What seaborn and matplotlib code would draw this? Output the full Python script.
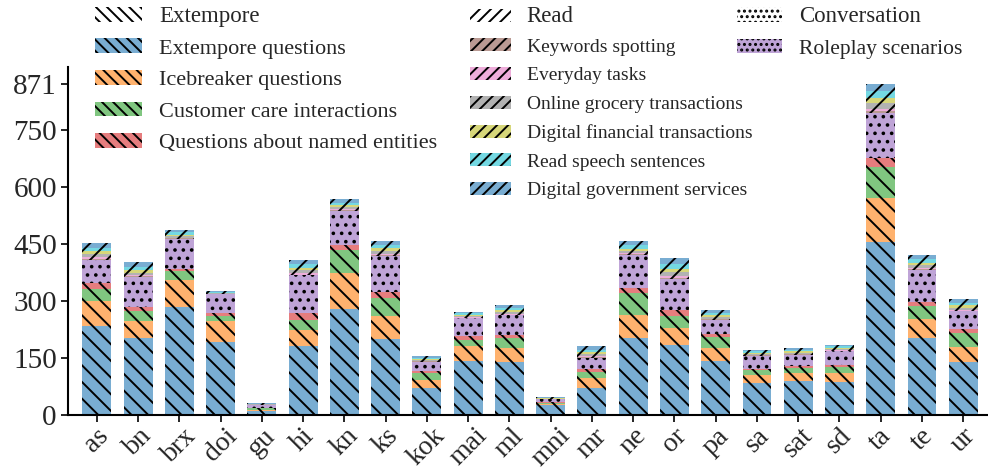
import matplotlib
matplotlib.use("Agg")
import numpy as np
import pandas as pd
import matplotlib.pyplot as plt
import matplotlib.colors as mcolors
from matplotlib.patches import Patch
import seaborn as sns

#%% data (hours per language)
langs = ["as", "bn", "brx", "doi", "gu", "hi", "kn", "ks", "kok", "mai", "ml",
         "mni", "mr", "ne", "or", "pa", "sa", "sat", "sd", "ta", "te", "ur"]

extempore_questions = [235, 203, 285, 192, 11, 182, 279, 199, 70, 143, 138,
                       25, 72, 201, 185, 142, 84, 89, 87, 455, 202, 140]
icebreaker_questions = [65, 45, 71, 55, 3, 42, 94, 61, 22, 39, 38,
                        4, 24, 63, 44, 35, 22, 20, 22, 116, 50, 38]
customer_care = [31, 25, 22, 14, 4, 26, 61, 48, 17, 16, 25,
                 3, 17, 56, 30, 29, 12, 15, 16, 80, 35, 37]
named_entities = [15, 10, 6, 6, 1, 18, 14, 15, 6, 9, 8,
                  1, 7, 15, 17, 8, 4, 5, 7, 24, 11, 10]
roleplay = [62, 79, 79, 51, 8, 99, 88, 95, 25, 47, 54,
            8, 31, 85, 82, 36, 34, 29, 35, 120, 84, 47]
keywords = [2, 2, 1, 0, 0, 2, 2, 2, 1, 1, 1,
            0, 1, 2, 3, 1, 1, 1, 1, 4, 2, 2]
everyday = [4, 3, 2, 1, 0, 4, 3, 4, 1, 2, 2,
            1, 3, 3, 5, 2, 1, 2, 2, 6, 3, 3]
grocery = [8, 6, 4, 1, 1, 7, 5, 7, 2, 3, 5,
           1, 5, 6, 9, 4, 3, 3, 3, 14, 6, 5]
financial = [8, 7, 4, 1, 1, 7, 5, 7, 3, 3, 5,
             1, 5, 6, 9, 5, 3, 3, 3, 14, 7, 6]
read_speech = [10, 9, 6, 2, 1, 10, 7, 9, 3, 4, 6,
               1, 7, 9, 13, 6, 4, 5, 4, 18, 9, 7]
government = [12, 12, 7, 2, 1, 11, 9, 11, 4, 4, 8,
              1, 9, 10, 16, 8, 4, 5, 5, 20, 11, 9]

yticks = [0, 150, 300, 450, 600, 750, 871]

# stacking order bottom -> top
series = [
    ("Extempore questions", extempore_questions, "extempore"),
    ("Icebreaker questions", icebreaker_questions, "extempore"),
    ("Customer care interactions", customer_care, "extempore"),
    ("Questions about named entities", named_entities, "extempore"),
    ("Roleplay scenarios", roleplay, "conversation"),
    ("Keywords spotting", keywords, "read"),
    ("Everyday tasks", everyday, "read"),
    ("Online grocery transactions", grocery, "read"),
    ("Digital financial transactions", financial, "read"),
    ("Read speech sentences", read_speech, "read"),
    ("Digital government services", government, "read"),
]

bar_hatch = {"extempore": "\\\\", "read": "//", "conversation": ".."}
leg_hatch = {"extempore": "\\\\\\", "read": "///", "conversation": "..."}

tab = plt.get_cmap("tab10").colors
def pale(c, a=0.6):
    c = np.array(mcolors.to_rgb(c))
    return tuple(c * a + (1 - a))
colors = [pale(tab[i % 10]) for i in range(len(series))]

#%% plot
sns.set_style("ticks")
plt.rcParams["font.family"] = ["Liberation Serif", "DejaVu Serif"]
plt.rcParams["hatch.linewidth"] = 1.4

fig = plt.figure(figsize=(9.88, 4.71), dpi=100)
ax = fig.add_axes([0.0688, 0.119, 0.9312, 0.739])

df = pd.DataFrame({name: vals for name, vals, _ in series}, index=langs)
cum = df.cumsum(axis=1)

# draw cumulative totals from the top layer down, each over the previous
for i in range(len(series) - 1, -1, -1):
    name, _, grp = series[i]
    sns.barplot(x=langs, y=cum[name].values, color=colors[i], saturation=1,
                width=0.7, hatch=bar_hatch[grp], edgecolor="black",
                linewidth=0, errorbar=None, ax=ax)

ax.set_xlim(-0.7, 21.6)
ax.set_ylim(0, 915)
ax.set_yticks(yticks)
ax.set_yticklabels([str(t) for t in yticks], fontsize=21)
ax.set_xticks(range(len(langs)))
ax.set_xticklabels(langs, rotation=45, fontsize=20)
ax.tick_params(axis="both", direction="out", length=5, width=1.2, color="black", pad=3)
ax.tick_params(axis="x", pad=1)
for s in ["left", "bottom"]:
    ax.spines[s].set_linewidth(1.5)
    ax.spines[s].set_color("black")
sns.despine(ax=ax)

#%% legends, one per recording type
def make_handles(group):
    hs = [Patch(facecolor="white", edgecolor="black", linewidth=0,
                hatch=leg_hatch[group])]
    labs = [group.capitalize()]
    for i, (name, _, grp) in enumerate(series):
        if grp == group:
            hs.append(Patch(facecolor=colors[i], edgecolor="black", linewidth=0,
                            hatch=leg_hatch[grp]))
            labs.append(name)
    return hs, labs

for group, x0, fs, sp in [("extempore", 0.096, 16, 0.51),
                          ("read", 0.476, 14, 0.58),
                          ("conversation", 0.746, 15.5, 0.55)]:
    hs, labs = make_handles(group)
    leg = fig.legend(hs, labs, loc="upper left", bbox_to_anchor=(x0, 0.987),
                     frameon=False, fontsize=fs, borderpad=0, borderaxespad=0,
                     handlelength=2.1, handleheight=0.65, handletextpad=0.8,
                     labelspacing=sp)
    leg.get_texts()[0].set_fontsize(16.5)

fig.savefig("out.png", dpi=100)
